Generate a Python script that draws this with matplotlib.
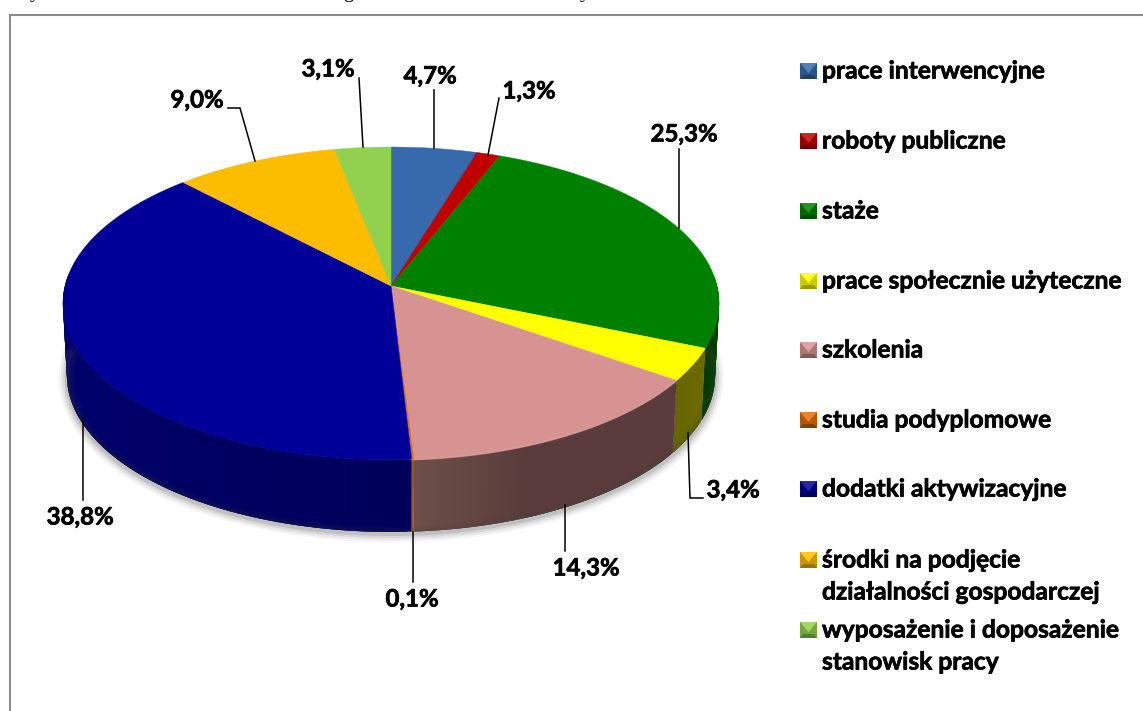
import matplotlib
matplotlib.use('Agg')
import matplotlib.pyplot as plt
import matplotlib.patheffects as pe
from matplotlib.collections import PolyCollection
import numpy as np

categories = ['prace interwencyjne', 'roboty publiczne', 'staże', 'prace społecznie użyteczne', 'szkolenia',
              'studia podyplomowe', 'dodatki aktywizacyjne', 'środki na podjęcie\ndziałalności gospodarczej',
              'wyposażenie i doposażenie\nstanowisk pracy']
values = [4.7, 1.3, 25.3, 3.4, 14.3, 0.1, 38.8, 9.0, 3.1]
top_colors = ['#366aac', '#c00000', '#008000', '#ffff00', '#d69392', '#e36c0a', '#000099', '#fcbd00', '#92d050']
side_start = ['#1f3d63', '#6e0000', '#004400', '#6b6b00', '#5a3c3c', '#a0521a', '#00005a', '#8f6c00', '#547730']
side_end = ['#1f3d63', '#6e0000', '#003c00', '#666600', '#6e5049', '#a0521a', '#00007e', '#8f6c00', '#547730']

# label centre and leader line of each slice
label_pos = [(430, 76), (529, 91), (684, 134), (733, 490), (586, 568), (412, 599), (80, 517), (197, 100), (328, 69)]
leaders = [
    [(434, 90), (434, 148)],
    [(499, 98), (488, 155)],
    [(679, 149), (679, 228)],
    [(688, 433), (690, 498), (703, 498)],
    [(565, 505), (565, 551)],
    [(413, 532), (413, 582)],
    [(83, 418), (83, 500)],
    [(228, 108), (240, 108), (255, 161)],
    [(359, 78), (363, 147)],
]
legend_y = [71, 141, 211, 281, 350, 420, 489, 560, 630]

cx, cy = 391, 286
a, b, k = 154.5, 326, 0.1117
depth = 72
thick = [pe.withStroke(linewidth=0.5, foreground='black')]


def rim(pct):
    th = np.asarray(pct) / 100 * 2 * np.pi
    X, Y = np.sin(th), np.cos(th)
    return cx + b * X / (1 + k * Y), cy - a * Y / (1 + k * Y)


def lighter(c, f):
    return tuple(np.array(matplotlib.colors.to_rgb(c)) * (1 - f) + f)


def fmt(v):
    return f'{v:.1f}%'.replace('.', ',')


fig = plt.figure(figsize=(11.43, 7.11), dpi=100)
ax = fig.add_axes([0, 0, 1, 1])
ax.set_xlim(0, 1143)
ax.set_ylim(711, 0)
ax.axis('off')

# cut off line of the caption above the frame
for ch, x in zip('ygy', [35, 348, 585]):
    ax.text(x, -3, ch, family='Liberation Serif', fontsize=15, ha='center', va='baseline', clip_on=True)

ax.plot([9.5, 9.5, 1143], [711, 15, 15], color='#8c8c8c', lw=1.5, solid_joinstyle='miter')

bounds = np.concatenate([[0], np.cumsum(values)])
bounds = bounds / bounds[-1] * 100

# soft shadow under the wall
sx, sy = rim(np.linspace(24.2, 75.8, 400))
sx = cx + (sx - cx) * 0.988
for w, al in zip([12, 9, 6, 3], [0.05, 0.07, 0.1, 0.14]):
    ax.plot(sx, sy + depth + 2, color='#404040', alpha=al, lw=w, solid_capstyle='round')

# side wall, quads overlap so no seams show
for i in range(len(values)):
    lo, hi = bounds[i], bounds[i + 1]
    steps = max(int((hi - lo) * 6), 2)
    pp = np.linspace(lo, hi, steps + 1)
    x, y = rim(pp)
    polys, cols = [], []
    c0 = np.array(matplotlib.colors.to_rgb(side_start[i]))
    c1 = np.array(matplotlib.colors.to_rgb(side_end[i]))
    for j in range(steps):
        if not (24 < pp[j + 1] and pp[j] < 76):
            continue
        e = min(j + 3, steps)
        top = list(zip(x[j:e + 1], y[j:e + 1]))
        bot = list(zip(cx + (x[j:e + 1] - cx) * 0.988, y[j:e + 1] + depth))
        polys.append(top + bot[::-1])
        t = (pp[j] - lo) / (hi - lo)
        f = max(0.0, (t - 0.65) / 0.35) if i == 4 else t
        cols.append(tuple(c0 * (1 - f) + c1 * f))
    if polys:
        ax.add_collection(PolyCollection(polys, facecolors=cols, edgecolors='none'))

# top face
for i in range(len(values)):
    x, y = rim(np.linspace(bounds[i], bounds[i + 1], max(int(values[i] * 8), 3)))
    ax.fill(np.r_[cx, x], np.r_[cy, y], color=top_colors[i], lw=0.3)
    if bounds[i] > 32 and bounds[i + 1] < 76:
        ax.plot(x, y, color=lighter(top_colors[i], 0.12), lw=1.2, alpha=0.7)

for v, (lx, ly), seg in zip(values, label_pos, leaders):
    ax.plot(*zip(*seg), color='black', lw=1.1, solid_joinstyle='miter')
    ax.text(lx, ly, fmt(v), family='Lato', weight='bold', fontsize=17.3, ha='center', va='center', path_effects=thick)

# legend keys with a bevel
for name, col, yy in zip(categories, top_colors, legend_y):
    x0, x1, y0, y1 = 800, 817, yy - 8, yy + 8
    xm, ym = 0.5 * (x0 + x1), yy + 2
    base = np.array(matplotlib.colors.to_rgb(col))
    ax.fill([x0, x1, x1, x0], [y0, y0, y1, y1], color=tuple(base * 0.8), lw=0)
    ax.fill([x0, x1, x1 - 3, x0 + 3], [y1, y1, y1 - 4, y1 - 4], color=tuple(base * 0.6), lw=0)
    ax.fill([x0, x1, xm], [y0, y0, ym], color=lighter(col, 0.15), lw=0)
    for n, line in enumerate(name.split('\n')):
        ax.text(822, yy + n * 32, line, family='Lato', weight='bold', fontsize=17.7, ha='left', va='center',
                color='black', path_effects=thick)

fig.savefig('out.png', dpi=100)
